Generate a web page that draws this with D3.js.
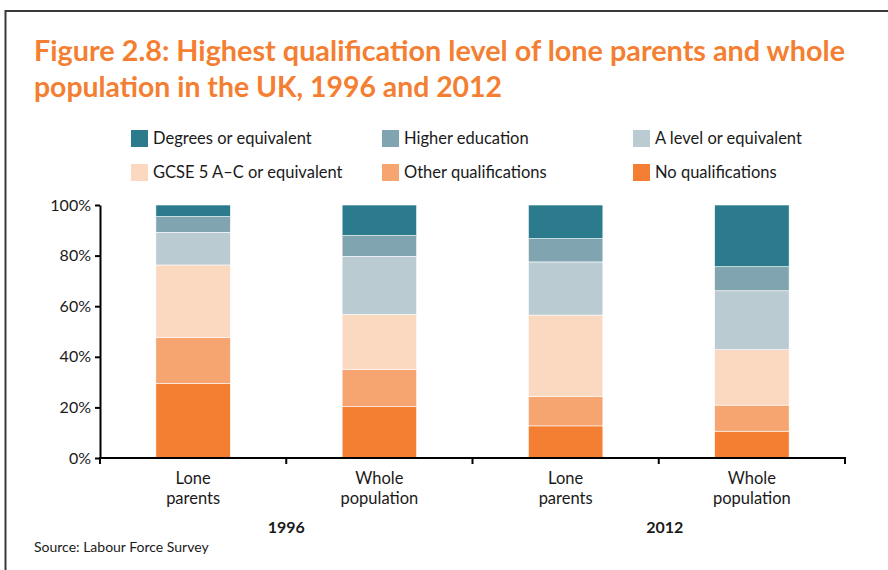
<!DOCTYPE html>
<html><head><meta charset="utf-8">
<script src="https://cdn.jsdelivr.net/npm/d3@7"></script>
<style>body{margin:0;background:#fff}svg{display:block}text{font-family:Lato,"Open Sans",sans-serif}</style>
</head><body><svg id="c" width="888" height="570"></svg>
<script>
const categories = ["Lone parents 1996","Whole population 1996","Lone parents 2012","Whole population 2012"];
const catLabels = [["Lone","parents"],["Whole","population"],["Lone","parents"],["Whole","population"]];
const years = ["1996","2012"];
const seriesNames = ["No qualifications","Other qualifications","GCSE 5 A–C or equivalent","A level or equivalent","Higher education","Degrees or equivalent"];
const noQual   = [29.4, 20.3, 12.7, 10.6];
const otherQ   = [18.2, 14.6, 11.7, 10.3];
const gcse     = [28.7, 21.8, 32.1, 21.9];
const aLevel   = [12.9, 23.0, 21.0, 23.3];
const higherEd = [6.2, 8.2, 9.2, 9.5];
const degrees  = [4.6, 12.1, 13.3, 24.4];
const yTicks = [0,20,40,60,80,100];
const colors = ["#f47f32","#f6a571","#fbd8c0","#bacbd2","#80a5b1","#2c7b8c"];
const legendOrder = ["Degrees or equivalent","Higher education","A level or equivalent","GCSE 5 A–C or equivalent","Other qualifications","No qualifications"];

const series = [noQual, otherQ, gcse, aLevel, higherEd, degrees];
const table = categories.map((c,i)=>{const o={cat:c}; seriesNames.forEach((s,j)=>o[s]=series[j][i]); return o;});
const stacked = d3.stack().keys(seriesNames)(table);
const color = d3.scaleOrdinal().domain(seriesNames).range(colors);

const svg = d3.select("#c");
// frame
svg.append("path").attr("d","M5.5,570 L5.5,11 L888,11").attr("fill","none").attr("stroke","#3a3a3a").attr("stroke-width",2);

// title
const title = ["Figure 2.8: Highest qualification level of lone parents and whole","population in the UK, 1996 and 2012"];
const tw = [811, 468];
title.forEach((t,i)=>{
  svg.append("text").attr("x",34).attr("y",61+i*36).attr("fill","#f47f32")
    .attr("font-size",29).attr("font-weight",700)
    .attr("textLength",tw[i]).attr("lengthAdjust","spacingAndGlyphs").text(t);
});

// legend
const lg = svg.append("g");
legendOrder.forEach((s,i)=>{
  const col=i%3,row=Math.floor(i/3);
  const x=131+col*251, y=130+row*34;
  lg.append("rect").attr("x",x).attr("y",y).attr("width",17).attr("height",17).attr("fill",color(s));
  lg.append("text").attr("x",x+22).attr("y",y+14).attr("font-size",16.5).attr("fill","#1a1a1a").text(s);
});

const x = d3.scaleBand().domain(categories).range([100,845]).paddingInner(0.6).paddingOuter(0.3);
const y = d3.scaleLinear().domain([0,100]).range([458,205]);

// bars
svg.append("g").selectAll("g").data(stacked).join("g").attr("fill",d=>color(d.key))
  .selectAll("rect").data(d=>d).join("rect")
  .attr("x",d=>x(d.data.cat)).attr("width",x.bandwidth())
  .attr("y",d=>y(d[1])).attr("height",d=>y(d[0])-y(d[1]))
  .attr("stroke","#fff").attr("stroke-width",0.6);

// y axis
const ya = svg.append("g").attr("transform","translate(100,0)")
  .call(d3.axisLeft(y).tickValues(yTicks).tickFormat(d=>d+"%").tickSize(5).tickSizeOuter(0));
ya.select(".domain").attr("stroke","#000").attr("stroke-width",2);
ya.selectAll(".tick line").attr("stroke","#000").attr("stroke-width",2);
ya.selectAll(".tick text").attr("font-size",16).attr("fill","#1a1a1a").attr("font-family","Lato,sans-serif").attr("dx",-1);

// x axis line and boundary ticks
const step = x.step();
const bounds = d3.range(categories.length+1).map(i=>100+i*step);
svg.append("line").attr("x1",99).attr("x2",846).attr("y1",458).attr("y2",458).attr("stroke","#000").attr("stroke-width",2);
svg.append("g").selectAll("line").data(bounds).join("line")
  .attr("x1",d=>d).attr("x2",d=>d).attr("y1",458).attr("y2",464).attr("stroke","#000").attr("stroke-width",2);

// category labels
categories.forEach((c,i)=>{
  const cx = x(c)+x.bandwidth()/2;
  catLabels[i].forEach((l,j)=>{
    svg.append("text").attr("x",cx).attr("y",484+j*20).attr("text-anchor","middle")
      .attr("font-size",16.5).attr("fill","#1a1a1a").text(l);
  });
});
// year labels
years.forEach((yr,i)=>{
  svg.append("text").attr("x",bounds[1+i*2]+ (i?6:0)).attr("y",533).attr("text-anchor","middle")
    .attr("font-size",16).attr("font-weight",700).attr("fill","#1a1a1a").text(yr);
});
// source
svg.append("text").attr("x",34).attr("y",552).attr("font-size",14).attr("fill","#1a1a1a").text("Source: Labour Force Survey");
</script></body></html>
